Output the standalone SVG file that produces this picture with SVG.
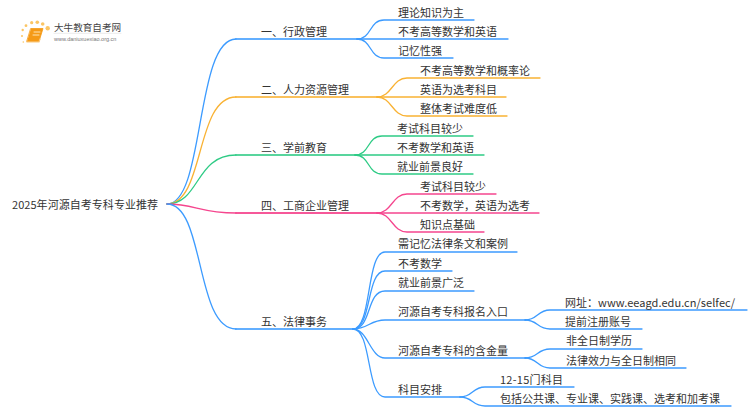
<svg xmlns="http://www.w3.org/2000/svg" width="750" height="410" viewBox="0 0 750 410">
<style>
text{font-family:"Noto Sans CJK SC","Noto Sans",sans-serif;font-size:11px;fill:#333}
path{fill:none;stroke-linecap:round}
.b{stroke:#3c9bff}.o{stroke:#f9b233}.g{stroke:#2ecb85}.p{stroke:#f5468e}
.c{stroke-width:1.3}.t{stroke-width:2}
.dot{fill:#fbc564}
</style>
<rect width="750" height="410" fill="#fff"/>
<g id="connectors">
<path class="b c" d="M167 204C205 204 195 39 236 39"/>
<path class="o c" d="M167 204C205 204 195 97 236 97"/>
<path class="g c" d="M167 204C200 204 195 155 236 155"/>
<path class="p c" d="M167 204C195 204 200 213 236 213"/>
<path class="b c" d="M167 204C205 204 195 329 236 329"/>
<path class="b t" opacity=".8" d="M236 39H357"/>
<path class="o t" opacity=".8" d="M236 97H377"/>
<path class="g t" opacity=".8" d="M236 155H355"/>
<path class="p t" opacity=".9" d="M236 213H377"/>
<path class="b t" opacity=".8" d="M236 329H353"/>
<path class="b c" d="M357 39C372 39 369 20 384 20H474"/>
<path class="b c" d="M357 39H508"/>
<path class="b c" d="M357 39C372 39 369 58 384 58H453"/>
<path class="o c" d="M377 97C392 97 392 78 407 78H540"/>
<path class="o c" d="M377 97H506"/>
<path class="o c" d="M377 97C392 97 392 116 407 116H507"/>
<path class="g c" d="M355 155C370 155 367 136 382 136H473"/>
<path class="g c" d="M355 155H484"/>
<path class="g c" d="M355 155C370 155 367 174 382 174H473"/>
<path class="p c" d="M377 213C392 213 392 194 407 194H496"/>
<path class="p c" d="M377 213H539"/>
<path class="p c" d="M377 213C392 213 392 232 407 232H484"/>
<path class="b c" d="M353 329C372 329 366 252 385 252H517"/>
<path class="b c" d="M353 329C372 329 366 271 385 271H452"/>
<path class="b c" d="M353 329C372 329 366 291 385 291H474"/>
<path class="b c" d="M353 329C368 329 370 320 385 320H526"/>
<path class="b c" d="M353 329C368 329 370 358 385 358H526"/>
<path class="b c" d="M353 329C372 329 366 397 385 397H460"/>
<path class="b c" d="M525 320C538 320 537 310 550 310H747"/>
<path class="b c" d="M525 320C538 320 537 329 550 329H642"/>
<path class="b c" d="M525 358C538 358 537 349 550 349H642"/>
<path class="b c" d="M525 358C538 358 537 368 550 368H686"/>
<path class="b c" d="M460 397C473 397 472 387 485 387H574"/>
<path class="b c" d="M460 397C473 397 472 406 485 406H731"/>
</g>
<g id="logo">
<circle class="dot" cx="47.700" cy="28.300" r="2.200"/><circle class="dot" cx="42.700" cy="24" r="1.800"/><circle class="dot" cx="37.300" cy="22.300" r="1.800"/><circle class="dot" cx="31.700" cy="22.700" r="1.600"/><circle class="dot" cx="26" cy="25.700" r="1.400"/><circle class="dot" cx="22.700" cy="30" r="1.200"/><circle class="dot" cx="22" cy="36" r="1"/><circle class="dot" cx="23.300" cy="42" r=".8"/>
<path d="M31 28.500H43L39 41.500H27Z" style="fill:#f59a16;stroke:#f59a16;stroke-width:.8;stroke-linejoin:round"/>
<path d="M27 42H39L40 39" style="stroke:#f9c77a;stroke-width:1.200"/>
<path d="M34 32H40M33 35H39" style="stroke:#fde5b5;stroke-width:1"/>
<path d="M54 33.300H121" style="stroke:#ddd;stroke-width:.6"/>
<text x="54" y="30.500" style="font-size:9.600px;fill:#444">大牛教育自考网</text>
<text x="54" y="40.500" style="font-size:5.500px;fill:#777;font-family:'Liberation Sans',sans-serif">www.daniuxuexiao.org.cn</text>
</g>
<g id="root"><text x="12" y="209" textLength="146">2025年河源自考专科专业推荐</text></g>
<g id="n1"><text x="261" y="36">一、行政管理</text></g>
<g id="n1a"><text x="398" y="16.500">理论知识为主</text></g>
<g id="n1b"><text x="398" y="36">不考高等数学和英语</text></g>
<g id="n1c"><text x="398" y="55">记忆性强</text></g>
<g id="n2"><text x="261" y="94">二、人力资源管理</text></g>
<g id="n2a"><text x="420" y="74.500">不考高等数学和概率论</text></g>
<g id="n2b"><text x="420" y="94">英语为选考科目</text></g>
<g id="n2c"><text x="420" y="113">整体考试难度低</text></g>
<g id="n3"><text x="261" y="152">三、学前教育</text></g>
<g id="n3a"><text x="397" y="132.500">考试科目较少</text></g>
<g id="n3b"><text x="397" y="152">不考数学和英语</text></g>
<g id="n3c"><text x="397" y="171">就业前景良好</text></g>
<g id="n4"><text x="261" y="210">四、工商企业管理</text></g>
<g id="n4a"><text x="420" y="190.500">考试科目较少</text></g>
<g id="n4b"><text x="420" y="210">不考数学，英语为选考</text></g>
<g id="n4c"><text x="420" y="229">知识点基础</text></g>
<g id="n5"><text x="261" y="326">五、法律事务</text></g>
<g id="n5a"><text x="398" y="248">需记忆法律条文和案例</text></g>
<g id="n5b"><text x="398" y="268">不考数学</text></g>
<g id="n5c"><text x="398" y="287">就业前景广泛</text></g>
<g id="n5d"><text x="398" y="316">河源自考专科报名入口</text></g>
<g id="n5d1"><text x="565" y="306.500" textLength="170">网址：www.eeagd.edu.cn/selfec/</text></g>
<g id="n5d2"><text x="565" y="326">提前注册账号</text></g>
<g id="n5e"><text x="398" y="355">河源自考专科的含金量</text></g>
<g id="n5e1"><text x="566" y="345">非全日制学历</text></g>
<g id="n5e2"><text x="566" y="364.500">法律效力与全日制相同</text></g>
<g id="n5f"><text x="398" y="394">科目安排</text></g>
<g id="n5f1"><text x="500" y="384" textLength="63">12-15门科目</text></g>
<g id="n5f2"><text x="500" y="403">包括公共课、专业课、实践课、选考和加考课</text></g>
</svg>
